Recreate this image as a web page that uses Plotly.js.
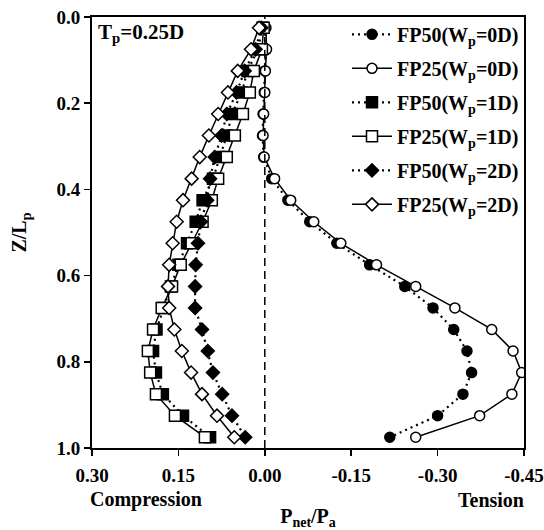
<!DOCTYPE html>
<html>
<head>
<meta charset="utf-8">
<script src="https://cdn.plot.ly/plotly-3.0.1.min.js"></script>
<style>html,body{margin:0;padding:0;background:#fff;}#chart{width:544px;height:530px;}</style>
</head>
<body>
<div id="chart"></div>
<script>
// Depth ratio Z/Lp
const depth = [0.025,0.075,0.125,0.175,0.225,0.275,0.325,0.375,0.425,0.475,0.525,0.575,0.625,0.675,0.725,0.775,0.825,0.875,0.925,0.975];
// Pnet/Pa (positive = compression, negative = tension)
const fp50_0D = [0.000,-0.002,0.000,0.001,0.003,0.004,0.002,-0.012,-0.040,-0.078,-0.125,-0.182,-0.243,-0.292,-0.328,-0.351,-0.359,-0.344,-0.300,-0.217];
const fp25_0D = [-0.002,-0.003,-0.001,0.000,0.002,0.003,0.001,-0.017,-0.045,-0.085,-0.132,-0.194,-0.262,-0.330,-0.394,-0.431,-0.446,-0.429,-0.373,-0.262];
const fp50_1D = [0.004,0.012,0.030,0.040,0.057,0.066,0.078,0.090,0.108,0.120,0.135,0.150,0.163,0.176,0.188,0.194,0.189,0.177,0.142,0.095];
const fp25_1D = [0.002,0.005,0.019,0.026,0.038,0.052,0.066,0.081,0.092,0.108,0.127,0.146,0.161,0.179,0.194,0.203,0.199,0.189,0.156,0.104];
const fp50_2D = [0.006,0.016,0.035,0.049,0.066,0.075,0.087,0.095,0.100,0.111,0.116,0.120,0.121,0.121,0.109,0.099,0.090,0.074,0.057,0.034];
const fp25_2D = [0.010,0.024,0.047,0.064,0.081,0.097,0.113,0.127,0.142,0.153,0.160,0.166,0.168,0.166,0.157,0.144,0.128,0.109,0.083,0.053];

const names = ['FP50(W<sub>p</sub>=0D)','FP25(W<sub>p</sub>=0D)','FP50(W<sub>p</sub>=1D)','FP25(W<sub>p</sub>=1D)','FP50(W<sub>p</sub>=2D)','FP25(W<sub>p</sub>=2D)'];
const xTicks = [0.30,0.15,0.00,-0.15,-0.30,-0.45];
const yTicks = [0.0,0.2,0.4,0.6,0.8,1.0];

const FONT = 'Liberation Serif, Times New Roman, serif';
const series = [
  {x: fp50_0D, sym: 'circle', fill: 'black', dash: 'dot', size: 10},
  {x: fp25_0D, sym: 'circle', fill: 'white', dash: 'solid', size: 10},
  {x: fp50_1D, sym: 'square', fill: 'black', dash: 'dot', size: 11},
  {x: fp25_1D, sym: 'square', fill: 'white', dash: 'solid', size: 11},
  {x: fp50_2D, sym: 'diamond', fill: 'black', dash: 'dot', size: 10},
  {x: fp25_2D, sym: 'diamond', fill: 'white', dash: 'solid', size: 10}
];
const traces = series.map((s, i) => ({
  x: s.x, y: depth, type: 'scatter', mode: 'lines+markers', name: names[i],
  legendgroup: 'g' + i,
  line: {color: 'black', width: s.dash === 'dot' ? 2.2 : 1.5, dash: s.dash === 'dot' ? '2px,4px' : 'solid'},
  marker: {symbol: s.sym, size: s.size, color: s.fill, line: {color: 'black', width: 1.5}}
}));

const layout = {
  width: 544, height: 530,
  margin: {l: 92, r: 20, t: 17, b: 82},
  paper_bgcolor: 'white', plot_bgcolor: 'white',
  font: {family: FONT, color: 'black', size: 18, weight: 'bold'},
  showlegend: true,
  legend: {x: 1.0, xanchor: 'right', y: 1.005, yanchor: 'top', bgcolor: 'rgba(0,0,0,0)',
           font: {family: FONT, size: 20, weight: 'bold', color: 'black'}, tracegroupgap: 5, itemwidth: 40},
  xaxis: {range: [0.30, -0.45], tickvals: xTicks, ticktext: xTicks.map(v => v.toFixed(2)),
          showgrid: false, zeroline: false, showline: true, mirror: true, linecolor: 'black', linewidth: 2,
          ticks: 'outside', ticklen: 6, tickwidth: 1.5, tickcolor: 'black', ticklabelstandoff: 3,
          tickfont: {family: FONT, size: 19, weight: 'bold'},
          title: {text: 'P<sub>net</sub>/P<sub>a</sub>', font: {family: FONT, size: 20, weight: 'bold'}, standoff: 26}},
  yaxis: {range: [1.0, 0.0], tickvals: yTicks, ticktext: yTicks.map(v => v.toFixed(1)),
          showgrid: false, zeroline: false, showline: true, mirror: true, linecolor: 'black', linewidth: 2,
          ticks: 'outside', ticklen: 6, tickwidth: 1.5, tickcolor: 'black',
          tickfont: {family: FONT, size: 19, weight: 'bold'},
          title: {text: 'Z/L<sub>p</sub>', font: {family: FONT, size: 20, weight: 'bold'}, standoff: 24}},
  shapes: [{type: 'line', xref: 'x', yref: 'paper', x0: 0, x1: 0, y0: 0, y1: 1,
            line: {color: 'black', width: 1.5, dash: '8px,5px'}}],
  annotations: [
    {text: 'T<sub>p</sub>=0.25D', xref: 'paper', yref: 'paper', x: 0.01, y: 0.997, xanchor: 'left', yanchor: 'top',
     showarrow: false, font: {family: FONT, size: 21, weight: 'bold'}},
    {text: 'Compression', xref: 'paper', yref: 'paper', x: -0.01, y: -0.12, xanchor: 'left', yanchor: 'middle',
     showarrow: false, font: {family: FONT, size: 20, weight: 'bold'}},
    {text: 'Tension', xref: 'paper', yref: 'paper', x: 1.005, y: -0.12, xanchor: 'right', yanchor: 'middle',
     showarrow: false, font: {family: FONT, size: 20, weight: 'bold'}}
  ]
};
Plotly.newPlot('chart', traces, layout, {displayModeBar: false, staticPlot: true});
</script>
</body>
</html>
